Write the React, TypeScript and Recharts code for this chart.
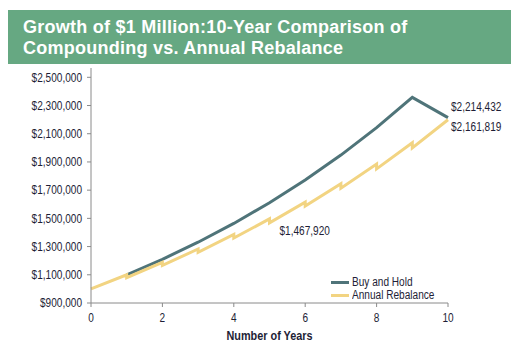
import React from "react";
import { Legend, Line, LineChart, XAxis, YAxis } from "recharts";

const holdYears = [1, 2, 3, 4, 5, 6, 7, 8, 9, 10];
const holdValues = [1100000, 1210000, 1331000, 1464100, 1610500, 1771600, 1948700, 2143600, 2357900, 2214432];

// annual rebalance: rises through the year, steps down at each rebalance
const rebalanceYears = [0, 1, 1, 2, 2, 3, 3, 4, 4, 5, 5, 6, 6, 7, 7, 8, 8, 9, 9, 10];
const rebalanceValues = [
  1000000, 1100000, 1080000, 1188000, 1166400, 1283000, 1259700, 1385700, 1360500, 1496600,
  1467920, 1614700, 1586900, 1745600, 1713800, 1885200, 1850900, 2036000, 1999000, 2199000,
];

const yTicks = [900000, 1100000, 1300000, 1500000, 1700000, 1900000, 2100000, 2300000, 2500000];
const xTicks = [0, 2, 4, 6, 8, 10];

const holdNote = "$2,214,432";
const rebalanceNotes = ["$1,467,920", "$2,161,819"];

const holdData = holdYears.map((year, i) => ({ year, value: holdValues[i] }));
const rebalanceData = rebalanceYears.map((year, i) => ({ year, value: rebalanceValues[i] }));

const FONT = "'Liberation Sans', Arial, sans-serif";
const SQUEEZE = 0.84;
const TEXT = "#1e1e36";
const AXIS = "#8a8a8a";
const HOLD = "#4f7479";
const REBAL = "#f2d482";

const fmt = (v: number) => "$" + v.toLocaleString("en-US");

// arial squeezed horizontally, close to the narrow face used in the original
function Narrow({ x, y, anchor = "start", dy = "0.35em", size = 12, bold = false, scale = SQUEEZE, children }: any) {
  return (
    <text
      x={0}
      y={0}
      dy={dy}
      transform={`translate(${x},${y}) scale(${scale} 1)`}
      textAnchor={anchor}
      fontSize={size}
      fontWeight={bold ? 700 : 400}
      fontFamily={FONT}
      fill={TEXT}
    >
      {children}
    </text>
  );
}

function YTick(props: any) {
  const { x, y, payload } = props;
  return (
    <Narrow x={x} y={y} anchor="end">
      {fmt(payload.value)}
    </Narrow>
  );
}

function XTick(props: any) {
  const { x, y, payload } = props;
  return (
    <Narrow x={x} y={y} anchor="middle" dy="0.71em">
      {payload.value}
    </Narrow>
  );
}

function XTitle(props: any) {
  const { viewBox } = props;
  return (
    <Narrow x={viewBox.x + viewBox.width / 2} y={336} anchor="middle" size={12.5} bold scale={0.87}>
      Number of Years
    </Narrow>
  );
}

function HoldLabel(props: any) {
  const { x, y, index } = props;
  if (index !== holdData.length - 1) return null;
  return (
    <Narrow x={x + 3} y={y - 11}>
      {holdNote}
    </Narrow>
  );
}

function RebalanceLabel(props: any) {
  const { x, y, index } = props;
  if (index === 10) {
    return (
      <Narrow x={x + 10} y={y + 8}>
        {rebalanceNotes[0]}
      </Narrow>
    );
  }
  if (index === rebalanceData.length - 1) {
    return (
      <Narrow x={x + 3} y={y + 7}>
        {rebalanceNotes[1]}
      </Narrow>
    );
  }
  return null;
}

function LegendBox() {
  const items = [
    { name: "Buy and Hold", color: HOLD },
    { name: "Annual Rebalance", color: REBAL },
  ];
  return (
    <div style={{ fontFamily: FONT, fontSize: 12, color: TEXT, lineHeight: "13px" }}>
      {items.map((it) => (
        <div key={it.name} style={{ display: "flex", alignItems: "center" }}>
          <span style={{ display: "inline-block", width: 18, height: 3, background: it.color, marginRight: 3 }} />
          <span style={{ display: "inline-block", transform: `scaleX(${SQUEEZE})`, transformOrigin: "left center" }}>
            {it.name}
          </span>
        </div>
      ))}
    </div>
  );
}

export default function App() {
  return (
    <div style={{ position: "absolute", left: 0, top: 0, width: 520, height: 352, background: "#fff" }}>
      <div
        style={{
          position: "absolute",
          left: 8,
          top: 10,
          width: 503,
          height: 54,
          background: "#66a882",
          color: "#fff",
          fontFamily: FONT,
          fontWeight: 700,
          fontSize: 18,
          letterSpacing: 0.25,
          lineHeight: "20.5px",
          paddingLeft: 15,
          paddingTop: 7,
          boxSizing: "border-box",
        }}
      >
        <div>Growth of $1 Million:10-Year Comparison of</div>
        <div>Compounding vs. Annual Rebalance</div>
      </div>
      <div style={{ position: "absolute", left: 0, top: 0 }}>
        <LineChart width={520} height={352} margin={{ top: 68, right: 72, left: 8, bottom: 9 }}>
          <XAxis
            dataKey="year"
            type="number"
            domain={[0, 10]}
            ticks={xTicks}
            allowDuplicatedCategory={false}
            height={40}
            stroke={AXIS}
            tickSize={4}
            tickMargin={6}
            tick={<XTick />}
            label={<XTitle />}
          />
          <YAxis
            type="number"
            domain={[900000, 2566000]}
            ticks={yTicks}
            width={83}
            stroke={AXIS}
            tickSize={4}
            tickMargin={5}
            tick={<YTick />}
          />
          <Legend
            layout="vertical"
            align="center"
            verticalAlign="middle"
            content={() => <LegendBox />}
            wrapperStyle={{ left: 331, top: 276, width: 120 }}
          />
          <Line
            data={holdData}
            dataKey="value"
            name="Buy and Hold"
            type="linear"
            stroke={HOLD}
            strokeWidth={3}
            dot={false}
            label={<HoldLabel />}
            isAnimationActive={false}
          />
          <Line
            data={rebalanceData}
            dataKey="value"
            name="Annual Rebalance"
            type="linear"
            stroke={REBAL}
            strokeWidth={3}
            dot={false}
            label={<RebalanceLabel />}
            isAnimationActive={false}
          />
        </LineChart>
      </div>
    </div>
  );
}
